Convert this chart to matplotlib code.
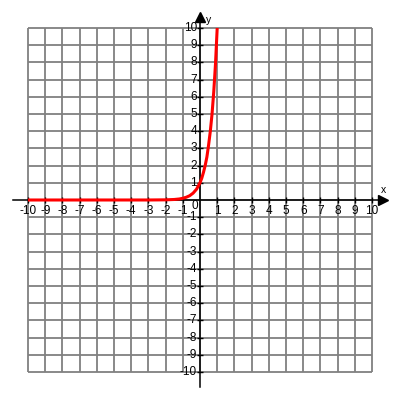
import matplotlib.pyplot as plt
import numpy as np

# values
grid_ticks = list(range(-10, 11))
x_labels = [t for t in grid_ticks if t != 0]
y_labels = [t for t in grid_ticks if t != 0]
curve_x = [-10, -3, -2, -1.5, -1.2, -1, -0.8, -0.6, -0.4, -0.2, 0,
           0.1, 0.2, 0.3, 0.4, 0.5, 0.6, 0.7, 0.8, 0.9, 1.0]
curve_y = [0, 0.001, 0.01, 0.03, 0.06, 0.1, 0.16, 0.25, 0.4, 0.63, 1,
           1.26, 1.6, 2.0, 2.5, 3.2, 4.0, 5.0, 6.3, 7.9, 10]

plt.rcParams["font.family"] = ["Liberation Sans", "DejaVu Sans"]

px = 1 / 17.2  # one pixel in data units
lim = 200 * px
axis_end = 187 * px

fig = plt.figure(figsize=(4, 4), dpi=100)
ax = fig.add_axes([0, 0, 1, 1])
ax.set_xlim(-lim, lim)
ax.set_ylim(-lim, lim)
ax.axis("off")

# grid
ax.vlines(grid_ticks, -10, 10, color="#808080", linewidth=1.3, zorder=1)
ax.hlines(grid_ticks, -10, 10, color="#808080", linewidth=1.3, zorder=1)

# axes
ax.plot([-axis_end, axis_end - 4 * px], [0, 0], color="black", lw=1.1, zorder=2)
ax.plot([0, 0], [-axis_end, axis_end - 4 * px], color="black", lw=1.1, zorder=2)
ax.plot([axis_end - 4 * px], [0], marker=">", ms=7.5, color="black", zorder=3)
ax.plot([0], [axis_end - 4 * px], marker="^", ms=7.5, color="black", zorder=3)
ax.plot(x_labels, [0] * len(x_labels), "|", color="black", ms=4, mew=1, zorder=2)
ax.plot([0] * len(y_labels), y_labels, "_", color="black", ms=4, mew=1, zorder=2)

# tick labels
fs = 8.5
for t in x_labels:
    ax.text(t, -11 * px, str(t), ha="center", va="center", fontsize=fs)
for t in y_labels:
    ax.text(-3 * px, t, str(t), ha="right", va="center", fontsize=fs)
ax.text(-2 * px, -6 * px, "0", ha="right", va="center", fontsize=fs)
ax.text(181 * px, 10 * px, "x", ha="left", va="center", fontsize=7.5)
ax.text(6 * px, 180 * px, "y", ha="left", va="center", fontsize=7.5)

# curve
ax.plot(curve_x, curve_y, color="red", lw=2.2, zorder=4,
        solid_joinstyle="round", solid_capstyle="butt")

fig.savefig("out.png", dpi=100)
